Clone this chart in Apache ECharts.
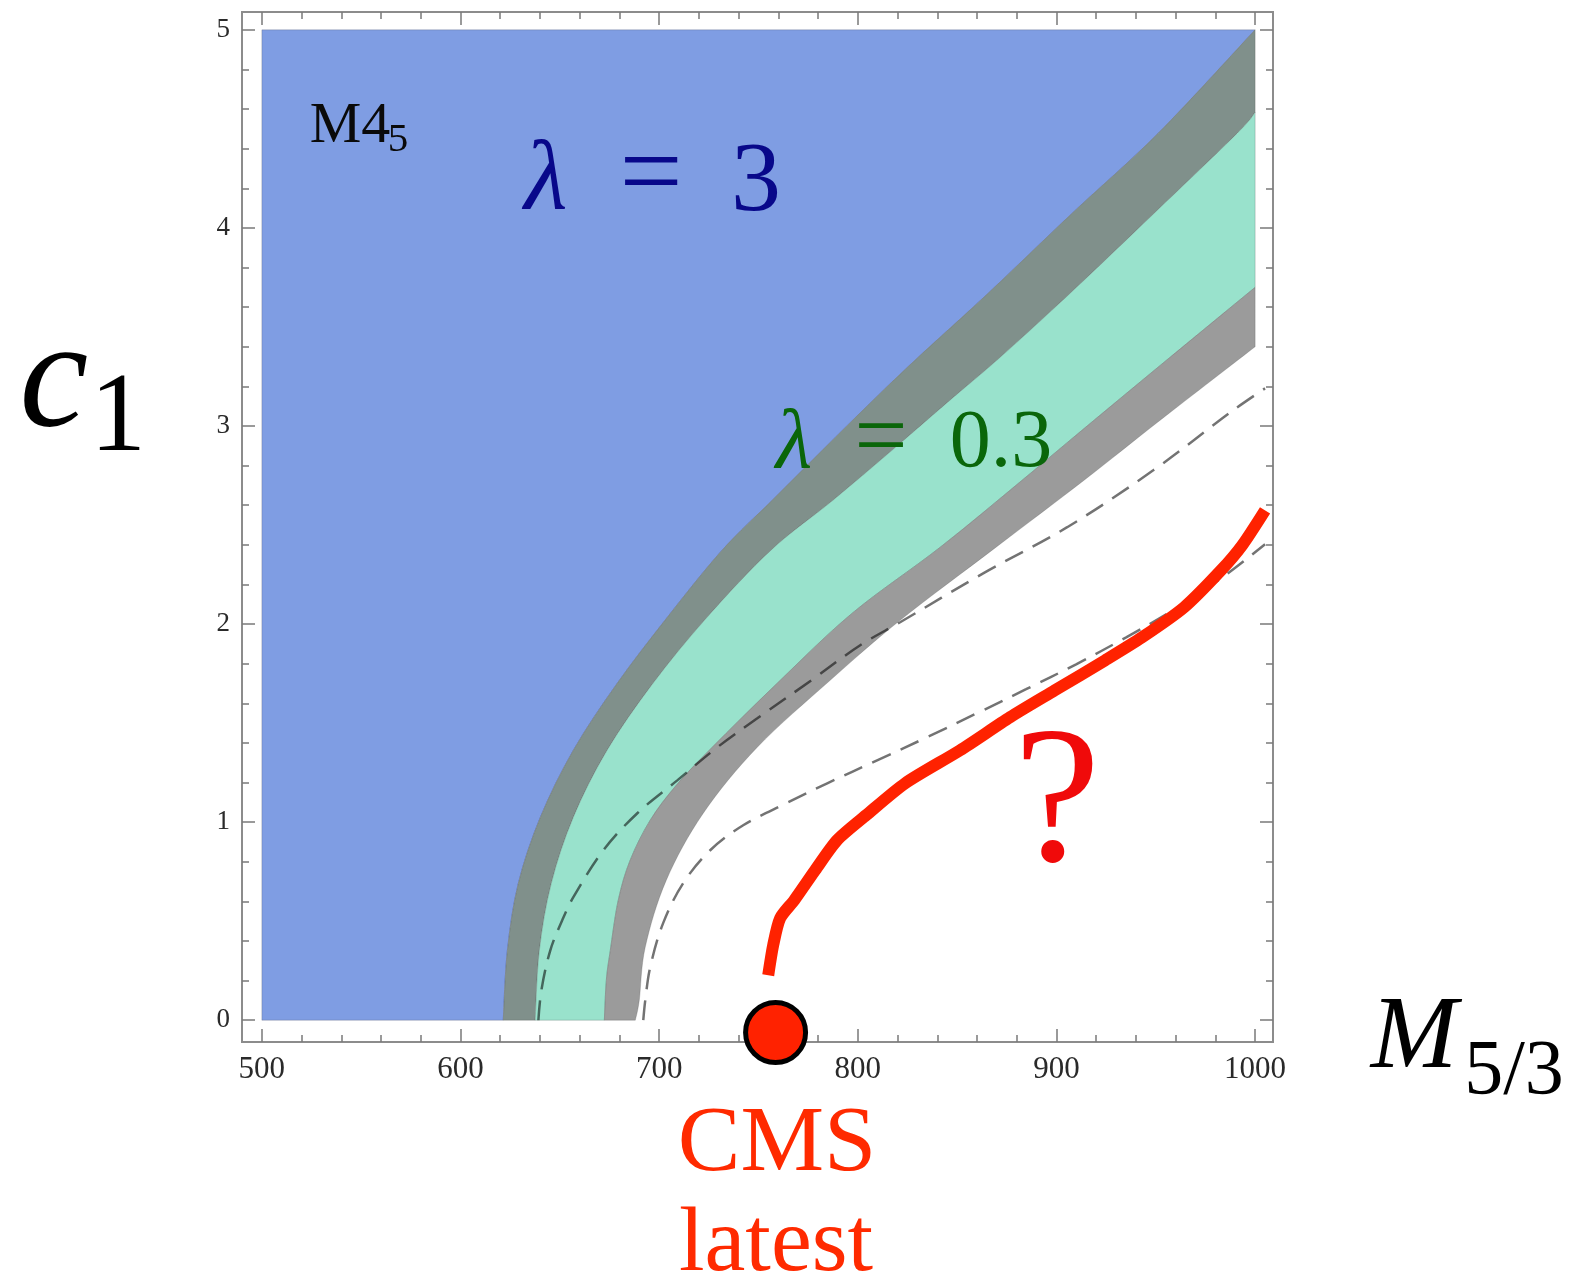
<!DOCTYPE html>
<html>
<head>
<meta charset="utf-8">
<script src="https://cdn.jsdelivr.net/npm/echarts@6/dist/echarts.min.js"></script>
<style>
html,body{margin:0;padding:0;background:#fff;}
#chart{width:1580px;height:1282px;}
</style>
</head>
<body>
<div id="chart"></div>
<script>
// ---- data ----
const xTicks = [500, 600, 700, 800, 900, 1000];
const xMinorTicks = [520, 540, 560, 580, 620, 640, 660, 680, 720, 740, 760, 780, 820, 840, 860, 880, 920, 940, 960, 980];
const yTicks = [0, 1, 2, 3, 4, 5];
const yMinorTicks = [0.2, 0.4, 0.6, 0.8, 1.2, 1.4, 1.6, 1.8, 2.2, 2.4, 2.6, 2.8, 3.2, 3.4, 3.6, 3.8, 4.2, 4.4, 4.6, 4.8];

// boundary between blue (lambda=3) region and dark-grey band
const bound1 = [[621.5,0],[623.6,0.353],[629.1,0.691],[640.2,1.025],[656.8,1.363],[678.9,1.701],[704.1,2.034],[731.7,2.373],[756.9,2.625],[782.1,2.877],[807.7,3.13],[830.4,3.347],[865.6,3.67],[907.9,4.074],[951.2,4.478],[1000,5.0]];
// boundary between dark-grey band and mint (lambda=0.3) band
const bound2 = [[637.6,0],[639.7,0.353],[645.7,0.691],[656.8,1.025],[673.8,1.363],[696.9,1.701],[724.1,2.034],[756.3,2.373],[787.5,2.625],[817.2,2.877],[846.4,3.13],[871.7,3.347],[906.9,3.67],[949.2,4.074],[991.0,4.478],[1000,4.584]];
// boundary between mint band and grey band
const bound3 = [[672.4,0],[673.4,0.202],[675.4,0.353],[679.4,0.606],[685.4,0.808],[695.5,1.01],[708.6,1.186],[726.7,1.378],[759.4,1.701],[797.2,2.055],[841.5,2.388],[882.7,2.726],[918.9,3.029],[957.2,3.347],[1000,3.70]];
// boundary between grey band and white
const bound4 = [[688.0,0],[690.0,0.101],[693.0,0.369],[703.6,0.707],[722.2,1.045],[749.4,1.378],[786.1,1.716],[821.3,2.019],[869.6,2.388],[913.9,2.726],[952.2,3.029],[1000,3.40]];

// dashed curves
const dashed1 = [[639.2,0],[640.7,0.151],[645.2,0.353],[651.2,0.505],[656.8,0.621],[671.9,0.858],[689.0,1.045],[709.1,1.211],[729.3,1.378],[749.4,1.524],[776.6,1.716],[801.2,1.893],[821.3,2.009],[863.1,2.256],[905.4,2.489],[948.7,2.776],[988.9,3.079],[1005.0,3.19]];
const dashed2 = [[692.0,0],[693.0,0.101],[695.5,0.268],[702.0,0.49],[712.1,0.692],[725.7,0.858],[742.3,0.984],[763.9,1.095],[784.6,1.196],[809.7,1.312],[834.9,1.429],[862.1,1.56],[884.7,1.671],[909.9,1.797],[935.1,1.933],[960.3,2.08],[982.9,2.231],[1005.0,2.403]];

// hand-drawn red curve and CMS point
const redCurve = [[754.9,0.227],[757.4,0.379],[760.9,0.515],[768.0,0.606],[778.5,0.757],[789.6,0.909],[804.2,1.035],[823.8,1.196],[851.5,1.363],[876.7,1.53],[899.3,1.666],[924.5,1.817],[943.1,1.933],[964.3,2.085],[982.9,2.272],[993.5,2.398],[1005.0,2.574]];
const cmsPoint = [[758.6, -0.062]];

const chart = echarts.init(document.getElementById('chart'), null, {renderer: 'canvas'});

const X_MIN = 490, X_MAX = 1009, Y_MIN = -0.11, Y_MAX = 5.09;
const frameCol = '#8c8c8c';
const tickCol = '#7a7a7a';

function xAxisDef(pos, ticks, len, labels) {
  return {
    type: 'value', position: pos, min: X_MIN, max: X_MAX,
    axisLine: {show: false, onZero: false},
    splitLine: {show: false},
    axisTick: {show: true, inside: true, length: len, customValues: ticks, lineStyle: {color: tickCol, width: 1.5}},
    axisLabel: labels ? {show: true, customValues: ticks, margin: 12, color: '#2a2a2a', fontFamily: 'Liberation Serif', fontSize: 31,
      formatter: function (v) { return String(v); }} : {show: false}
  };
}
function yAxisDef(pos, ticks, len, labels) {
  return {
    type: 'value', position: pos, min: Y_MIN, max: Y_MAX,
    axisLine: {show: false, onZero: false},
    splitLine: {show: false},
    axisTick: {show: true, inside: true, length: len, customValues: ticks, lineStyle: {color: tickCol, width: 1.5}},
    axisLabel: labels ? {show: true, customValues: ticks, margin: 12, color: '#2a2a2a', fontFamily: 'Liberation Serif', fontSize: 27,
      formatter: function (v) { return String(v); }} : {show: false}
  };
}

// smooth (Catmull-Rom) path through pixel points, continuing an open path
function curveTo(px) {
  let d = '';
  for (let i = 0; i < px.length - 1; i++) {
    const p0 = px[i - 1] || px[i], p1 = px[i], p2 = px[i + 1], p3 = px[i + 2] || px[i + 1];
    const c1x = p1[0] + (p2[0] - p0[0]) / 6, c1y = p1[1] + (p2[1] - p0[1]) / 6;
    const c2x = p2[0] - (p3[0] - p1[0]) / 6, c2y = p2[1] - (p3[1] - p1[1]) / 6;
    d += ' C' + c1x.toFixed(2) + ',' + c1y.toFixed(2) + ' ' + c2x.toFixed(2) + ',' + c2y.toFixed(2) + ' ' + p2[0].toFixed(2) + ',' + p2[1].toFixed(2);
  }
  return d;
}
function pt(p) { return p[0].toFixed(2) + ',' + p[1].toFixed(2); }

// region between a left boundary and a right boundary (both listed bottom -> right edge);
// left === null means the plot's left edge (x = 500, y from 0 to 5)
function regionSeries(name, left, right, color) {
  return {
    type: 'custom', name: name, xAxisIndex: 0, yAxisIndex: 0, silent: true, z: 1,
    data: [right[0]],
    renderItem: function (params, api) {
      const R = right.map(function (p) { return api.coord(p); });
      let d;
      if (left === null) {
        const a = api.coord([500, 0]), b = api.coord([500, 5]);
        d = 'M' + pt(a) + ' L' + pt(R[0]) + curveTo(R) + ' L' + pt(b) + ' Z';
      } else {
        const L = left.map(function (p) { return api.coord(p); });
        const Lr = L.slice().reverse();
        d = 'M' + pt(R[0]) + curveTo(R) + ' L' + pt(Lr[0]) + curveTo(Lr) + ' Z';
      }
      return {type: 'path', shape: {pathData: d}, style: {fill: color, stroke: 'rgba(60,60,60,0.22)', lineWidth: 1}};
    }
  };
}

function txt(x, y, text, font, fill) {
  return {type: 'text', x: x, y: y, z: 100,
    style: {text: text, font: font, fill: fill, textAlign: 'center', textVerticalAlign: 'middle', align: 'center', verticalAlign: 'middle'}};
}

const option = {
  animation: false,
  backgroundColor: '#ffffff',
  grid: {left: 242, top: 12, width: 1031, height: 1030, show: true, borderColor: frameCol, borderWidth: 2, backgroundColor: 'transparent'},
  xAxis: [
    xAxisDef('bottom', xTicks, 13, true),
    xAxisDef('bottom', xMinorTicks, 7, false),
    xAxisDef('top', xTicks, 13, false),
    xAxisDef('top', xMinorTicks, 7, false)
  ],
  yAxis: [
    yAxisDef('left', yTicks, 13, true),
    yAxisDef('left', yMinorTicks, 7, false),
    yAxisDef('right', yTicks, 13, false),
    yAxisDef('right', yMinorTicks, 7, false)
  ],
  series: [
    regionSeries('lambda3', null, bound1, '#7f9de3'),
    regionSeries('band1', bound2, bound1, '#80908b'),
    regionSeries('lambda03', bound3, bound2, '#99e2cc'),
    regionSeries('band2', bound4, bound3, '#9b9b9b'),
    {type: 'line', name: 'dash1', data: dashed1, showSymbol: false, smooth: 0.35, z: 3, silent: true,
      lineStyle: {color: 'rgba(0,0,0,0.55)', width: 2.5, type: [20, 11]}},
    {type: 'line', name: 'dash2', data: dashed2, showSymbol: false, smooth: 0.35, z: 3, silent: true,
      lineStyle: {color: 'rgba(0,0,0,0.55)', width: 2.5, type: [20, 11]}},
    {type: 'line', name: 'red', data: redCurve, showSymbol: false, smooth: 0.25, z: 4, silent: true, clip: false,
      lineStyle: {color: '#ff2200', width: 12, cap: 'butt', join: 'round'}},
    {type: 'scatter', name: 'CMS', data: cmsPoint, symbol: 'circle', symbolSize: 60, z: 5, clip: false, silent: true,
      itemStyle: {color: '#ff2200', borderColor: '#000', borderWidth: 5, opacity: 1}}
  ],
  graphic: [
    txt(54, 384, 'c', 'italic 155px "Liberation Serif"', '#000'),
    txt(118, 421, '1', '112px "Liberation Serif"', '#000'),
    txt(1414, 1040, 'M', 'italic 104px "Liberation Serif"', '#000'),
    txt(1514, 1073, '5/3', '78px "Liberation Serif"', '#000'),
    txt(777, 1145, 'CMS', '94px "Liberation Serif"', '#ff2a00'),
    txt(776, 1246, 'latest', '92px "Liberation Serif"', '#ff2a00'),
    txt(1057, 809, '?', '195px "Liberation Serif"', '#f00a0a'),
    txt(546, 183, 'λ', 'italic 100px "Liberation Serif"', '#08088a'),
    txt(651, 179, '=', '112px "Liberation Serif"', '#08088a'),
    txt(756, 184, '3', '100px "Liberation Serif"', '#08088a'),
    txt(794, 445, 'λ', 'italic 84px "Liberation Serif"', '#0a660a'),
    txt(881, 441, '=', '94px "Liberation Serif"', '#0a660a'),
    txt(1001, 444, '0.3', '82px "Liberation Serif"', '#0a660a'),
    txt(350, 127, 'M4', '58px "Liberation Serif"', '#0a0a0a'),
    txt(398, 140, '5', '41px "Liberation Serif"', '#0a0a0a')
  ]
};
chart.setOption(option);
</script>
</body>
</html>
